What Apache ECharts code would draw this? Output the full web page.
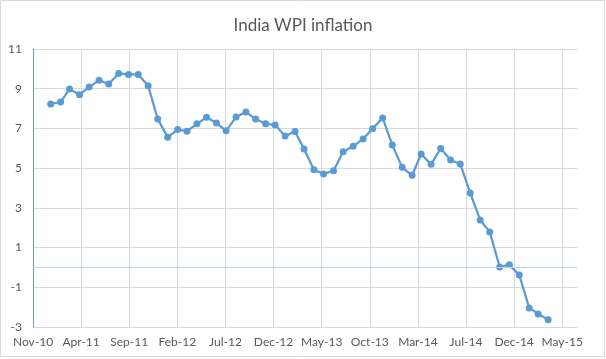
<!DOCTYPE html>
<html><head><meta charset="utf-8">
<script src="https://cdn.jsdelivr.net/npm/echarts@6/dist/echarts.min.js"></script>
<style>html,body{margin:0;padding:0;background:#fff}#c{width:606px;height:359px}</style>
</head><body><div id="c"></div>
<script>
const months = [
  '2011-01','2011-02','2011-03','2011-04','2011-05','2011-06','2011-07','2011-08','2011-09','2011-10','2011-11','2011-12',
  '2012-01','2012-02','2012-03','2012-04','2012-05','2012-06','2012-07','2012-08','2012-09','2012-10','2012-11','2012-12',
  '2013-01','2013-02','2013-03','2013-04','2013-05','2013-06','2013-07','2013-08','2013-09','2013-10','2013-11','2013-12',
  '2014-01','2014-02','2014-03','2014-04','2014-05','2014-06','2014-07','2014-08','2014-09','2014-10','2014-11','2014-12',
  '2015-01','2015-02','2015-03','2015-04'
];
const wpiInflation = [
  8.23, 8.33, 8.99, 8.69, 9.09, 9.42, 9.24, 9.77, 9.72, 9.72, 9.15, 7.47,
  6.56, 6.94, 6.86, 7.23, 7.56, 7.27, 6.88, 7.57, 7.83, 7.47, 7.24, 7.17,
  6.62, 6.84, 5.96, 4.92, 4.71, 4.87, 5.83, 6.10, 6.47, 6.99, 7.53, 6.17,
  5.04, 4.64, 5.71, 5.19, 5.99, 5.41, 5.21, 3.75, 2.39, 1.79, 0.02, 0.14,
  -0.38, -2.04, -2.34, -2.63
];
const xTickLabels = ['Nov-10','Apr-11','Sep-11','Feb-12','Jul-12','Dec-12','May-13','Oct-13','Mar-14','Jul-14','Dec-14','May-15'];
const yTicks = [-3, -1, 1, 3, 5, 7, 9, 11];

const axisStart = '2010-11-07';
const tickDays = 150;
const axisEndDays = 1696;
const DAY = 86400000;
function dayOffset(m){ return (Date.parse(m + '-01') - Date.parse(axisStart)) / DAY; }

const seriesData = months.map((m, i) => [dayOffset(m), wpiInflation[i]]);
const FONT = 'Lato, "Liberation Sans", sans-serif';

const chart = echarts.init(document.getElementById('c'), null, {renderer: 'canvas'});
chart.setOption({
  animation: false,
  backgroundColor: '#fff',
  title: {
    text: 'India WPI inflation', left: 'center', top: 12,
    textStyle: {fontFamily: FONT, fontSize: 17, fontWeight: 'normal', color: '#595959'}
  },
  graphic: [{
    type: 'rect', silent: true, z: -1,
    shape: {x: 0.5, y: 0.5, width: 604, height: 356},
    style: {fill: null, stroke: '#D9D9D9', lineWidth: 1}
  }],
  grid: {left: 33, right: 29, top: 49, bottom: 32, containLabel: false},
  xAxis: {
    type: 'value', min: 0, max: axisEndDays, interval: tickDays,
    axisLine: {show: false}, axisTick: {show: false},
    axisLabel: {
      color: '#595959', fontFamily: FONT, fontSize: 12, margin: 9, showMaxLabel: false,
      formatter: v => (v % tickDays === 0 && v / tickDays < xTickLabels.length) ? xTickLabels[v / tickDays] : ''
    },
    splitLine: {show: true, showMaxLine: false, lineStyle: {color: '#D9D9D9', width: 1}}
  },
  yAxis: {
    type: 'value', min: yTicks[0], max: yTicks[yTicks.length - 1], interval: 2,
    axisLine: {show: true, lineStyle: {color: '#6A96C8', width: 1}}, axisTick: {show: false},
    axisLabel: {color: '#595959', fontFamily: FONT, fontSize: 12, margin: 11},
    splitLine: {show: true, lineStyle: {color: '#D9D9D9', width: 1}}
  },
  series: [{
    type: 'line', data: [], z: 1, silent: true,
    markLine: {
      silent: true, symbol: 'none', label: {show: false}, animation: false,
      lineStyle: {color: '#BDD7EE', width: 1, type: 'solid'},
      data: [{yAxis: 0}]
    }
  }, {
    type: 'line', data: seriesData, z: 3,
    symbol: 'circle', symbolSize: 7,
    lineStyle: {color: '#5B9BD5', width: 2.25},
    itemStyle: {color: '#5B9BD5'}
  }]
});
</script></body></html>
